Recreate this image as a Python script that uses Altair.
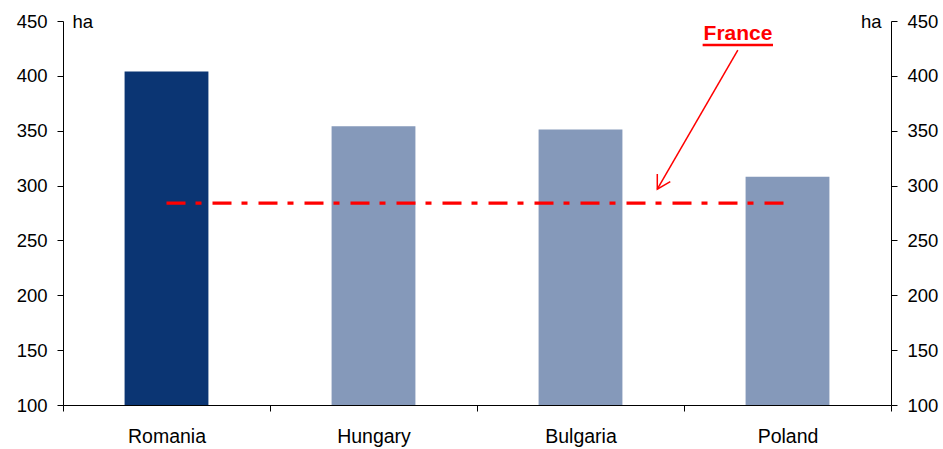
import altair as alt
import pandas as pd

# ---- data ----
countries = ["Romania", "Hungary", "Bulgaria", "Poland"]
farm_size = [404, 354, 351, 308]
highlight = "Romania"
france_value = 284
france_label = "France"
unit_label = "ha"

# annotation positions (x in category units 0..4, y in ha)
label_pos = [3.261, 432.7]
underline_x = [3.09, 3.43]
underline_y = 428.1
arrow_start = [3.26, 423.5]
arrow_tip = [2.871, 296.8]

FONT = "Liberation Sans"
FS = 18.5
DARK = "#0B3573"
LIGHT = "#8599BA"
RED = "#FF0000"

bars_df = pd.DataFrame({"country": countries, "value": farm_size})
france_df = pd.DataFrame({"country": [countries[0], countries[-1]], "value": [france_value, france_value]})

x_enc = alt.X(
    "country:N",
    sort=countries,
    scale=alt.Scale(paddingInner=0, paddingOuter=0),
    axis=alt.Axis(
        title=None, labelAngle=0, tickBand="extent", tickSize=6, labelPadding=16,
        labelFontSize=19.5, labelFont=FONT, labelColor="black",
        domainColor="black", tickColor="black", grid=False,
    ),
)
y_scale = alt.Scale(domain=[100, 450], nice=False, zero=False)
ticks = [100, 150, 200, 250, 300, 350, 400, 450]

bars = alt.Chart(bars_df).mark_bar(clip=True, width=alt.RelativeBandSize(0.405)).encode(
    x=x_enc,
    y=alt.Y("value:Q", scale=y_scale,
            axis=alt.Axis(values=ticks, grid=False, tickSize=6, labelPadding=10,
                          labelFontSize=FS, labelFont=FONT, labelColor="black",
                          domainColor="black", tickColor="black",
                          title=unit_label, titleAngle=0, titleX=9, titleY=0,
                          titleAlign="left", titleBaseline="middle",
                          titleFont=FONT, titleFontSize=FS, titleFontWeight="normal",
                          titleColor="black")),
    color=alt.condition(alt.datum.country == highlight, alt.value(DARK), alt.value(LIGHT)),
)

france_line = alt.Chart(france_df).mark_line(
    color=RED, strokeWidth=3.3, strokeDash=[19, 10, 6, 11]
).encode(
    x=alt.X("country:N", sort=countries),
    y=alt.Y("value:Q", scale=y_scale),
)

base_layer = alt.layer(bars, france_line)

xq = alt.Scale(domain=[0, 4], nice=False, zero=False)
ann_df = pd.DataFrame({
    "lx": [label_pos[0]], "ly": [label_pos[1]], "text": [france_label],
    "ux1": [underline_x[0]], "ux2": [underline_x[1]], "uy": [underline_y],
    "ax1": [arrow_start[0]], "ay1": [arrow_start[1]],
    "ax2": [arrow_tip[0]], "ay2": [arrow_tip[1]],
})

right_axis = alt.Axis(values=ticks, grid=False, tickSize=6, labelPadding=10, orient="right",
                      labelFontSize=FS, labelFont=FONT, labelColor="black",
                      domainColor="black", tickColor="black",
                      title=unit_label, titleAngle=0, titleX=-10, titleY=0,
                      titleAlign="right", titleBaseline="middle",
                      titleFont=FONT, titleFontSize=FS, titleFontWeight="normal",
                      titleColor="black")

ann_text = alt.Chart(ann_df).mark_text(
    color=RED, font=FONT, fontSize=21, fontWeight="bold", align="center", baseline="alphabetic"
).encode(
    x=alt.X("lx:Q", scale=xq, axis=None),
    y=alt.Y("ly:Q", scale=y_scale, axis=right_axis),
    text="text:N",
)

underline = alt.Chart(ann_df).mark_rule(color=RED, strokeWidth=2.5).encode(
    x=alt.X("ux1:Q", scale=xq, axis=None), x2="ux2:Q",
    y=alt.Y("uy:Q", scale=y_scale),
)

arrow = alt.Chart(ann_df).mark_rule(color=RED, strokeWidth=1.5).encode(
    x=alt.X("ax1:Q", scale=xq, axis=None), x2="ax2:Q",
    y=alt.Y("ay1:Q", scale=y_scale), y2="ay2:Q",
)

arrow_head = alt.Chart(ann_df).mark_point(
    shape="M -0.5 -0.866 L 0 0 L 0.5 -0.866", filled=False, stroke=RED,
    strokeWidth=1.5, size=900, angle=30, opacity=1,
).encode(
    x=alt.X("ax2:Q", scale=xq, axis=None),
    y=alt.Y("ay2:Q", scale=y_scale),
)

ann_layer = alt.layer(ann_text, underline, arrow, arrow_head)

chart = alt.layer(base_layer, ann_layer).resolve_scale(
    x="independent", y="independent"
).properties(
    width=828, height=384,
    autosize=alt.AutoSizeParams(type="none"),
    padding={"left": 63, "top": 21, "right": 52, "bottom": 44},
    background="white",
).configure_view(strokeWidth=0)

chart.save("out.html", embed_options={"renderer": "svg", "actions": False})
